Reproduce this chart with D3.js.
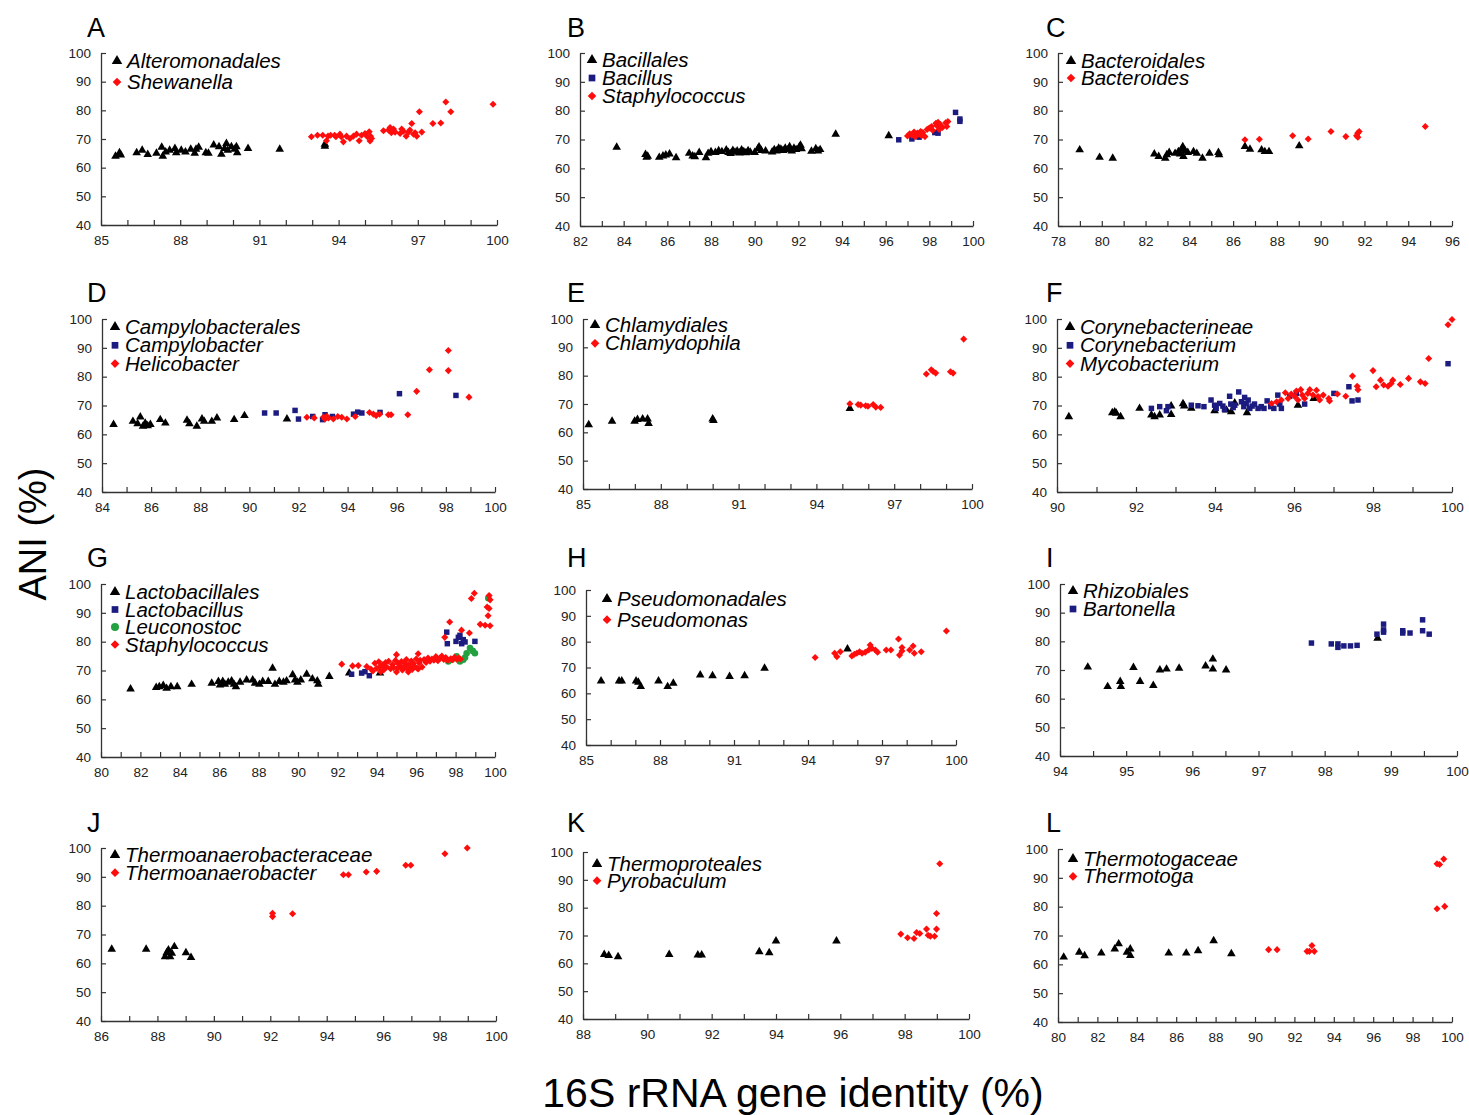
<!DOCTYPE html>
<html>
<head>
<meta charset="utf-8">
<script src="https://cdn.jsdelivr.net/npm/d3@7"></script>
<style>
  body { margin: 0; background: #fff; }
  svg { display: block; font-family: "Liberation Sans", Arial, sans-serif; }
</style>
</head>
<body>
<script>
'use strict';

// ---- data: [16S identity, ANI] ----
const aAlteromonadales = [[85.55,64],[85.7,65.2],[85.75,64.4],[86.35,65.2],[86.56,66.1],[86.77,64.6],[87.1,65],[87.3,67.1],[87.34,64],[87.45,65.5],[87.6,66.1],[87.8,66.7],[87.85,65.2],[88.04,66.1],[88.2,65.5],[88.4,66.4],[88.55,65],[88.6,66.4],[88.7,67.1],[88.97,65.2],[89.07,65],[89.27,67.9],[89.47,67.3],[89.56,64.7],[89.68,66.7],[89.75,68.4],[89.8,66.1],[89.94,67.3],[90.06,66.4],[90.13,67.3],[90.16,65.2],[90.57,66.7],[91.77,66.4],[93.48,67.5],[93.48,68.2]];
const aShewanella = [[92.97,70.8],[93.2,71.3],[93.4,71.3],[93.54,69.4],[93.6,71],[93.7,71.3],[93.85,71.3],[93.9,70.8],[94.05,71.7],[94.1,70.8],[94.18,69],[94.3,71],[94.43,70.2],[94.56,71],[94.68,71.7],[94.78,69.4],[94.87,71.3],[95.0,71.9],[95.09,70.8],[95.16,72.5],[95.19,69.3],[95.21,71],[95.25,70.2],[95.7,72.9],[95.89,73.1],[95.95,74],[96.0,72.2],[96.08,73.5],[96.14,72.4],[96.33,71.9],[96.39,73.5],[96.46,72.7],[96.56,71],[96.65,72.4],[96.7,73.1],[96.77,75.4],[96.84,71.7],[96.9,72.2],[96.96,71],[97.06,79.5],[97.15,72.4],[97.57,75.4],[97.87,75.6],[98.06,82.9],[98.25,79.5],[99.85,82.1]];

const bBacillales = [[83.68,67.3],[85.0,64.8],[85.05,63.8],[85.1,64.2],[85.63,63.8],[85.8,64.3],[85.93,64.6],[86.1,65],[86.4,63.7],[87.0,65.2],[87.16,64.3],[87.26,64],[87.46,65.5],[87.77,63.7],[87.87,65.2],[88.0,65.8],[88.2,65.5],[88.35,66.1],[88.5,65.8],[88.7,66.4],[88.8,65.5],[88.9,65.1],[89.0,66.2],[89.1,65.6],[89.2,66.0],[89.3,65.3],[89.4,66.4],[89.5,65.8],[89.6,65.4],[89.7,66.1],[89.8,65.6],[90.0,65.5],[90.15,66.8],[90.2,67.4],[90.3,66.2],[90.5,66.0],[90.8,65.7],[90.9,66.5],[91.0,66.0],[91.1,67.0],[91.2,66.6],[91.3,66.2],[91.4,67.0],[91.5,66.4],[91.6,67.5],[91.7,66.0],[91.8,67.0],[91.9,66.5],[92.05,67.5],[92.1,68.0],[92.15,66.8],[92.6,65.9],[92.8,66.8],[92.9,66.0],[93.0,66.5],[93.71,71.8],[96.14,71.3]];
const bBacillus = [[96.6,69.9],[97.2,70.2],[97.53,70.8],[98.25,72.4],[98.4,72.2],[99.2,79.4],[99.4,76.3],[99.4,77.1]];
const bStaphylococcus = [[97.0,71.2],[97.1,72.0],[97.2,71.5],[97.3,72.6],[97.35,71.0],[97.45,72.2],[97.5,71.8],[97.6,72.8],[97.65,71.3],[97.7,72.4],[97.8,71.0],[97.9,73.5],[98.0,74.0],[98.1,74.5],[98.15,73.2],[98.3,75.6],[98.35,74.8],[98.4,76.0],[98.45,73.5],[98.5,75.2],[98.6,74.2],[98.75,75.8],[98.8,74.5],[98.85,76.2]];

const cBacteroidales = [[78.99,66.4],[79.9,63.8],[80.5,63.5],[82.4,65],[82.6,64.1],[82.9,63.5],[82.97,64.7],[83.08,65.5],[83.35,65.2],[83.5,65.8],[83.58,65],[83.65,66.6],[83.7,67.5],[83.73,64.1],[83.8,66.1],[83.93,65.5],[84.19,65.8],[84.34,65.2],[84.6,63.5],[84.92,65.2],[85.33,65.5],[85.36,64.7],[86.54,67.6],[86.77,66.6],[87.3,66.4],[87.45,65.8],[87.64,65.8],[89.02,67.8]];
const cBacteroides = [[86.54,69.9],[87.2,70.1],[88.72,71.3],[89.43,70.2],[90.47,72.8],[91.15,71],[91.64,71.3],[91.69,72.2],[91.76,72.8],[91.7,70.8],[94.78,74.5]];

const dCampylobacterales = [[84.47,63.4],[85.26,64.5],[85.45,63.7],[85.56,66],[85.67,62.8],[85.76,63.9],[85.86,63],[85.97,63.4],[86.37,65.1],[86.58,63.9],[87.46,64.9],[87.56,63.7],[87.86,62.8],[88.07,65.3],[88.16,64.5],[88.47,64.5],[88.68,65.7],[89.38,65.1],[89.8,66.5],[91.53,65.3]];
const dCampylobacter = [[90.62,67.4],[91.09,67.4],[91.86,68.3],[92.0,65.3],[92.58,66.2],[93.08,66.8],[92.98,65.1],[93.38,66.2],[94.24,67],[94.41,67.7],[94.58,67.4],[95.32,67.6],[96.11,74.1],[98.41,73.5]];
const dHelicobacter = [[92.34,65.9],[92.64,65.7],[93.02,66],[93.08,65.3],[93.15,66.2],[93.22,65.7],[93.42,65.3],[93.6,66.2],[93.76,65.9],[93.97,65.3],[94.31,66.2],[94.89,67.6],[95.05,67],[95.16,66.5],[95.3,67],[95.66,66.8],[95.77,66.8],[96.45,66.8],[96.81,74.9],[97.33,82.4],[98.1,82.1],[98.1,89.1],[98.94,72.9]];

const eChlamydiales = [[85.22,62.7],[86.12,63.9],[86.99,63.9],[87.1,64.5],[87.3,64.7],[87.49,64.7],[87.53,63.1],[90.0,64.7],[90.03,64.2],[95.29,68.4]];
const eChlamydophila = [[95.29,70.1],[95.61,69.8],[95.71,69.6],[95.9,69.4],[95.99,69.2],[96.19,69.8],[96.29,68.9],[96.48,68.8],[98.24,80.6],[98.43,82.1],[98.5,81.5],[98.6,80.9],[99.17,81.4],[99.27,80.9],[99.68,92.9]];

const fCorynebacterineae = [[90.3,66.1],[91.4,67.5],[91.46,67.8],[91.5,67.3],[91.61,66.1],[92.09,69],[92.39,66.7],[92.47,66.1],[92.6,66.7],[92.89,69.8],[92.89,66.9],[93.19,70.6],[93.22,69.8],[93.4,69],[93.99,68.2],[94.29,68.4],[94.41,67.8],[94.5,70.9],[94.81,67.5],[96.1,70.1],[96.5,72.4]];
const fCorynebacterium = [[92.39,69],[92.6,69.6],[92.77,68.2],[92.81,69.6],[93.4,70.1],[93.57,69.9],[93.72,69.6],[93.9,71.9],[93.99,70.1],[94.03,69],[94.12,70.7],[94.2,69.8],[94.24,68.6],[94.37,73.2],[94.4,70.5],[94.46,69.3],[94.5,70.1],[94.6,74.7],[94.67,71.3],[94.73,69.6],[94.75,72.8],[94.79,70.7],[94.84,71.9],[94.88,69],[94.94,69.8],[95.0,70.5],[95.09,69],[95.17,69.6],[95.24,69],[95.32,71.6],[95.41,69.6],[95.49,69],[95.59,73.6],[95.64,70.5],[95.68,69],[95.89,73.2],[96.06,74.2],[96.27,70.5],[97.01,74.2],[97.39,76.5],[97.47,71.6],[97.62,71.9],[99.9,84.5]];
const fMycobacterium = [[95.43,70.7],[95.56,71.3],[95.68,71.9],[95.78,74.4],[95.85,72.4],[95.93,74],[96.02,73.1],[96.06,75],[96.1,71.9],[96.17,75.5],[96.21,73.6],[96.27,72.4],[96.35,74.2],[96.4,75.5],[96.48,73.6],[96.57,75.3],[96.61,73.1],[96.65,71.9],[96.74,73.6],[96.88,72.4],[96.9,71.6],[97.1,74],[97.31,73.2],[97.48,80.2],[97.6,76.7],[97.62,75.5],[98.0,82.1],[98.08,76.5],[98.19,78.8],[98.27,77.1],[98.38,76.7],[98.46,77.6],[98.5,78.8],[98.69,77.3],[98.9,79.4],[99.2,78.2],[99.32,77.6],[99.41,86.3],[99.9,98],[100.0,99.8]];

const gLactobacillales = [[81.5,63.6],[82.8,64.1],[82.96,64.4],[83.16,64.8],[83.33,63.8],[83.55,64.4],[83.87,64.4],[84.6,65.2],[85.62,65.6],[85.96,66.2],[86.04,65],[86.18,66.2],[86.29,65.2],[86.46,65.9],[86.63,66.4],[86.75,65.2],[86.85,64.4],[87.06,65.9],[87.39,66.7],[87.7,66.7],[87.82,65.6],[88.04,65.2],[88.21,66.2],[88.49,66.2],[88.71,70.8],[88.83,65.2],[89.05,66.2],[89.26,65.9],[89.42,66.4],[89.73,68.5],[89.85,66.7],[89.97,65.9],[90.14,66.7],[90.44,68.7],[90.73,67.1],[90.98,66.4],[91.03,65.2],[91.59,67.9],[92.6,69.1],[94.16,69.1]];
const gLactobacillus = [[92.72,68.7],[93.23,69.1],[93.4,69.6],[93.62,68.2],[97.55,83.3],[97.58,79.3],[98.02,80.1],[98.31,79.3],[98.14,81.5],[98.22,82.2],[98.39,80.7],[98.48,79.9],[98.98,80.1]];
const gLeuconostoc = [[97.63,73.1],[97.8,73.7],[98.05,74.9],[98.22,73.1],[98.39,73.7],[98.48,74.5],[98.56,76],[98.73,77.8],[98.87,76.8],[98.98,76],[99.66,95.1]];
const gStaphylococcus = [[92.22,72.2],[92.77,71.6],[93.06,71.7],[93.49,71.4],[93.7,70.5],[93.8,69.8],[93.9,72.5],[94.0,70.8],[94.1,73.0],[94.2,71.5],[94.2,69.6],[94.3,72.0],[94.35,70.2],[94.45,72.8],[94.5,71.2],[94.6,73.2],[94.7,70.6],[94.8,72.1],[94.85,71.0],[94.95,73.5],[95.0,75.5],[95.0,69.5],[95.05,70.8],[95.1,72.3],[95.2,71.6],[95.25,73.1],[95.3,70.2],[95.4,72.6],[95.45,71.3],[95.5,73.8],[95.55,70.6],[95.6,72.0],[95.6,69.5],[95.7,71.0],[95.75,73.3],[95.8,70.4],[95.85,72.5],[95.9,71.6],[96.0,74.0],[96.05,70.8],[96.1,75.8],[96.1,70.5],[96.15,72.6],[96.2,73.5],[96.3,71.2],[96.4,73.8],[96.5,72.8],[96.6,74.3],[96.7,73.2],[96.8,74.0],[96.9,73.6],[97.0,74.8],[97.1,73.4],[97.2,74.2],[97.3,75.0],[97.4,73.8],[97.45,81.5],[97.5,74.5],[97.6,73.5],[97.7,86.8],[97.75,74.1],[97.85,73.7],[97.95,74.6],[98.05,73.9],[98.15,74.3],[98.25,74.0],[98.3,84.0],[98.7,83.0],[98.8,95.0],[98.95,96.8],[99.25,86.0],[99.5,85.7],[99.6,92.0],[99.65,89.0],[99.7,91.5],[99.7,96.0],[99.75,85.5],[99.75,94.5]];

const hPseudomonadales = [[85.61,64.8],[86.34,64.8],[86.45,64.8],[87.03,64.8],[87.12,64.3],[87.22,62.6],[87.94,64.8],[88.31,62.6],[88.54,63.9],[89.63,67.1],[90.13,66.8],[90.82,66.5],[91.43,66.8],[92.24,69.7],[95.6,77.2]];
const hPseudomonas = [[94.29,73.9],[95.08,75.5],[95.17,74.2],[95.31,76.1],[95.78,74.5],[95.88,75.1],[95.98,75.5],[96.09,76.1],[96.19,75.5],[96.32,75.9],[96.46,76.8],[96.52,78.7],[96.59,77.4],[96.73,76.8],[96.82,75.9],[97.17,76.8],[97.36,76.8],[97.67,81],[97.71,74.8],[97.81,76.4],[97.81,77.7],[98.12,76.8],[98.26,78.3],[98.31,75.5],[98.59,76.1],[99.61,84.1]];

const iRhizobiales = [[94.42,71],[94.72,64.2],[94.91,66],[94.92,64.2],[95.11,70.9],[95.21,66],[95.41,64.6],[95.51,70],[95.61,70.3],[95.8,70.6],[96.2,71.4],[96.31,73.8],[96.31,70.3],[96.51,70],[98.8,81.1]];
const iBartonella = [[97.8,79.4],[98.1,79.1],[98.2,79.1],[98.2,77.9],[98.29,78.4],[98.39,78.4],[98.49,78.6],[98.79,82.5],[98.89,86],[98.89,84],[98.89,83.2],[99.18,83.7],[99.18,82.9],[99.29,82.9],[99.48,87.5],[99.48,83.7],[99.58,82.5]];

const jThermoanaerobacteraceae = [[86.38,64.9],[87.6,64.9],[88.27,62.3],[88.33,63.7],[88.39,64.6],[88.45,62.3],[88.51,63.5],[88.6,65.8],[89.01,63.7],[89.19,62]];
const jThermoanaerobacter = [[92.08,77.4],[92.08,76.2],[92.79,77.2],[94.59,90.7],[94.77,90.7],[95.4,91.7],[95.77,91.9],[96.8,94],[96.98,94],[98.19,98],[98.98,100]];

const kThermoproteales = [[88.66,63.2],[88.8,62.8],[89.09,62.4],[90.68,63.2],[91.57,63],[91.69,63],[93.48,64.2],[93.79,63.8],[94.0,68],[95.88,68]];
const kPyrobaculum = [[97.88,70.5],[98.09,69.2],[98.29,68.9],[98.37,71.1],[98.47,70.7],[98.68,72.3],[98.73,70.1],[98.8,69.7],[98.93,69.7],[98.99,72.3],[98.99,77.9],[99.09,95.8]];

const lThermotogaceae = [[80.29,62.5],[81.08,64.2],[81.35,63],[82.2,63.9],[82.88,65.3],[83.08,67.1],[83.5,64.2],[83.67,65.3],[83.67,63.1],[85.62,63.9],[86.51,63.9],[87.11,64.7],[87.9,68.2],[88.8,63.7]];
const lThermotoga = [[90.69,65.1],[91.12,65.1],[92.64,64.5],[92.76,64.5],[92.89,66.5],[93.01,64.5],[99.24,94.9],[99.37,94.6],[99.58,96.5],[99.24,79.3],[99.63,80.1]];

// panel letters, x domains and tick steps
const letters = ["A","B","C","D","E","F","G","H","I","J","K","L"];
const xDomains = [[85,100],[82,100],[78,96],[84,100],[85,100],[90,100],[80,100],[85,100],[94,100],[86,100],[88,100],[80,100]];
const xLabelSteps = [3,2,2,2,3,2,2,3,1,2,2,2];
const xMinorSteps = [1,1,1,1,1,1,1,1,0.5,1,1,1];
const yTicks = [40,50,60,70,80,90,100];

// series per panel: [legend name, shape, values]
const seriesByPanel = [
  [["Alteromonadales","triangle",aAlteromonadales],["Shewanella","diamond",aShewanella]],
  [["Bacillales","triangle",bBacillales],["Bacillus","square",bBacillus],["Staphylococcus","diamond",bStaphylococcus]],
  [["Bacteroidales","triangle",cBacteroidales],["Bacteroides","diamond",cBacteroides]],
  [["Campylobacterales","triangle",dCampylobacterales],["Campylobacter","square",dCampylobacter],["Helicobacter","diamond",dHelicobacter]],
  [["Chlamydiales","triangle",eChlamydiales],["Chlamydophila","diamond",eChlamydophila]],
  [["Corynebacterineae","triangle",fCorynebacterineae],["Corynebacterium","square",fCorynebacterium],["Mycobacterium","diamond",fMycobacterium]],
  [["Lactobacillales","triangle",gLactobacillales],["Lactobacillus","square",gLactobacillus],["Leuconostoc","circle",gLeuconostoc],["Staphylococcus","diamond",gStaphylococcus]],
  [["Pseudomonadales","triangle",hPseudomonadales],["Pseudomonas","diamond",hPseudomonas]],
  [["Rhizobiales","triangle",iRhizobiales],["Bartonella","square",iBartonella]],
  [["Thermoanaerobacteraceae","triangle",jThermoanaerobacteraceae],["Thermoanaerobacter","diamond",jThermoanaerobacter]],
  [["Thermoproteales","triangle",kThermoproteales],["Pyrobaculum","diamond",kPyrobaculum]],
  [["Thermotogaceae","triangle",lThermotogaceae],["Thermotoga","diamond",lThermotoga]]
];

// ---- layout (pixel boxes of each plot area: left, top, right, bottom) ----
const plotBoxes = [
  [101,53,497,225],[580,53,973,226],[1058,53,1452,226],
  [102,319,495,492],[583,319,972,489],[1057,319,1452,492],
  [101,584,495,757],[586,590,956,745],[1060,584,1457,756],
  [101,848,496,1021],[583,852,969,1019],[1058,849,1452,1022]
];
// legend: marker offset from axis, first row offset from top, row step
const legendPos = [
  [16,8,21],[12,7,18],[13,8,17],
  [13,8,18.3],[12,6,18.3],[13,8,18.3],
  [14,8,17.5],[21,9,20.7],[13,7,18],
  [14,7,17.7],[14,12,16.7],[15,10,17.4]
];
const letterX = [87, 567, 1046];
const letterY = [36.5, 301.5, 567, 831.5];

const colors = { triangle: "#000000", square: "#1b1b80", circle: "#23a03f", diamond: "#ff0d0d" };
const symbolTypes = { triangle: d3.symbolTriangle, square: d3.symbolSquare, circle: d3.symbolCircle, diamond: d3.symbolSquare };
const symbolSizes = { triangle: 32, square: 30, circle: 34, diamond: 25 };

const svg = d3.select("body").append("svg")
  .attr("width", 1469)
  .attr("height", 1115);

const range = (a, b, step) => {
  const out = [];
  for (let v = a; v <= b + 1e-9; v += step) out.push(+v.toFixed(3));
  return out;
}

const drawMarker = (g, shape, x, y, scale = 1) => {
  g.append("path")
    .attr("d", d3.symbol().type(symbolTypes[shape]).size(symbolSizes[shape] * scale)())
    .attr("transform", `translate(${x},${y})` + (shape === "diamond" ? " rotate(45)" : ""))
    .attr("fill", colors[shape]);
}

seriesByPanel.forEach((series, i) => {
  const [x0, y0, x1, y1] = plotBoxes[i];
  const xScale = d3.scaleLinear().domain(xDomains[i]).range([x0, x1]);
  const yScale = d3.scaleLinear().domain([40, 100]).range([y1, y0]);
  const g = svg.append("g").attr("class", "panel");

  // panel letter
  g.append("text")
    .attr("x", letterX[i % 3])
    .attr("y", letterY[Math.floor(i / 3)])
    .attr("font-size", 27)
    .text(letters[i]);

  // x axis, ticks pointing inward
  const isLabel = v => {
    const q = (v - xDomains[i][0]) / xLabelSteps[i];
    return Math.abs(q - Math.round(q)) < 1e-6;
  };
  const xAxis = d3.axisBottom(xScale)
    .tickValues(range(xDomains[i][0], xDomains[i][1], xMinorSteps[i]))
    .tickSizeInner(-5)
    .tickSizeOuter(0)
    .tickPadding(10)
    .tickFormat(v => isLabel(v) ? d3.format("d")(v) : "");
  const gx = g.append("g")
    .attr("transform", `translate(0,${y1})`)
    .call(xAxis);

  const yAxis = d3.axisLeft(yScale)
    .tickValues(yTicks)
    .tickSizeInner(-5)
    .tickSizeOuter(0)
    .tickPadding(10);
  const gy = g.append("g")
    .attr("transform", `translate(${x0},0)`)
    .call(yAxis);

  [gx, gy].forEach(a => {
    a.select(".domain").attr("stroke", "#333").attr("stroke-width", 1.3);
    a.selectAll(".tick line").attr("stroke", "#333").attr("stroke-width", 1.2);
    a.selectAll(".tick text")
      .attr("font-family", "Liberation Sans, Arial, sans-serif")
      .attr("font-size", 13.5)
      .attr("fill", "#222");
  });

  // points
  series.forEach(([name, shape, values]) => {
    const pg = g.append("g").attr("class", "series");
    values.forEach(d => drawMarker(pg, shape, xScale(d[0]), yScale(d[1])));
  });

  // legend
  const [ldx, ldy, lstep] = legendPos[i];
  series.forEach(([name, shape], k) => {
    const mx = x0 + ldx;
    const my = y0 + ldy + k * lstep;
    drawMarker(g, shape, mx, my, 1.5);
    g.append("text")
      .attr("x", mx + 10)
      .attr("y", my + 7)
      .attr("font-size", 20.5)
      .attr("font-style", "italic")
      .text(name);
  });
});

// axis titles
svg.append("text")
  .attr("transform", "translate(46,534) rotate(-90)")
  .attr("text-anchor", "middle")
  .attr("font-size", 38)
  .text("ANI (%)");

svg.append("text")
  .attr("x", 793)
  .attr("y", 1107)
  .attr("text-anchor", "middle")
  .attr("font-size", 41)
  .text("16S rRNA gene identity (%)");
</script>
</body>
</html>
